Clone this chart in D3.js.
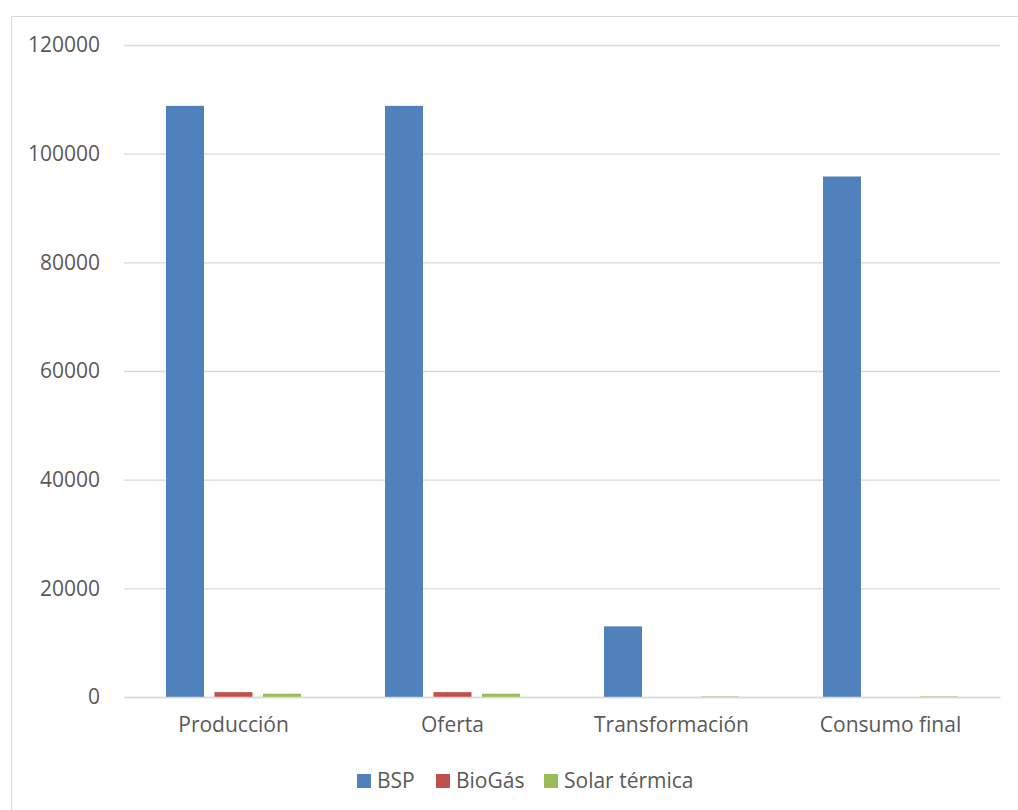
<!DOCTYPE html>
<html><head><meta charset="utf-8">
<script src="https://cdn.jsdelivr.net/npm/d3@7"></script>
<style>body{margin:0;background:#fff}svg{display:block}</style>
</head><body>
<script>
const categories = ["Producción", "Oferta", "Transformación", "Consumo final"];
const seriesNames = ["BSP", "BioGás", "Solar térmica"];
const bsp = [108800, 108800, 13000, 95800];
const biogas = [900, 900, 0, 0];
const solar = [600, 600, 100, 100];
const yTicks = [0, 20000, 40000, 60000, 80000, 100000, 120000];
const colors = ["#4F81BD", "#C0504D", "#9BBB59"];
const seriesValues = [bsp, biogas, solar];

(function () {
const W = 1018, H = 810;
const font = "'Open Sans', sans-serif";
const fs = "21px";
const svg = d3.select("body").append("svg").attr("width", W).attr("height", H);
svg.append("rect").attr("x", 11.5).attr("y", 16.5).attr("width", W + 10).attr("height", H + 10)
  .attr("fill", "#fff").attr("stroke", "#D9D9D9").attr("stroke-width", 1);

const pLeft = 124, pRight = 1000, pTop = 45, pBottom = 697;
const x = d3.scaleBand().domain(categories).range([pLeft, pRight]).paddingInner(0).paddingOuter(0);
const y = d3.scaleLinear().domain([0, 120000]).range([pBottom, pTop]);

const yAxis = d3.axisLeft(y).tickValues(yTicks).tickSize(-(pRight - pLeft)).tickPadding(24).tickFormat(d3.format("d"));
const gy = svg.append("g").attr("transform", `translate(${pLeft},0)`).call(yAxis);
gy.select(".domain").remove();
gy.selectAll(".tick line").attr("stroke", "#D9D9D9").attr("stroke-width", 1.3);
gy.selectAll(".tick text").attr("fill", "#595959").style("font-family", font).style("font-size", fs);

const barW = 38, gap = 10.5;
const clusterW = 3 * barW + 2 * gap;
const g = svg.append("g");
seriesValues.forEach((vals, si) => {
  g.selectAll(".s" + si).data(categories).enter().append("rect")
    .attr("x", c => x(c) + x.bandwidth() / 2 - clusterW / 2 + si * (barW + gap))
    .attr("width", barW)
    .attr("y", (c, i) => y(vals[i]))
    .attr("height", (c, i) => y(0) - y(vals[i]))
    .attr("fill", colors[si]);
});

const xAxis = d3.axisBottom(x).tickSize(0).tickPadding(20);
const gx = svg.append("g").attr("transform", `translate(0,${pBottom})`).call(xAxis);
gx.select(".domain").attr("stroke", "#D9D9D9").attr("stroke-width", 1.5);
gx.selectAll(".tick text").attr("fill", "#595959").style("font-family", font).style("font-size", fs);

const legendX = [357, 436, 544];
const lg = svg.append("g");
seriesNames.forEach((n, i) => {
  lg.append("rect").attr("x", legendX[i]).attr("y", 774).attr("width", 14).attr("height", 14).attr("fill", colors[i]);
  lg.append("text").attr("x", legendX[i] + 20).attr("y", 781).attr("dy", "0.35em")
    .attr("fill", "#595959").style("font-family", font).style("font-size", fs).text(n);
});
})();
</script>
</body></html>
